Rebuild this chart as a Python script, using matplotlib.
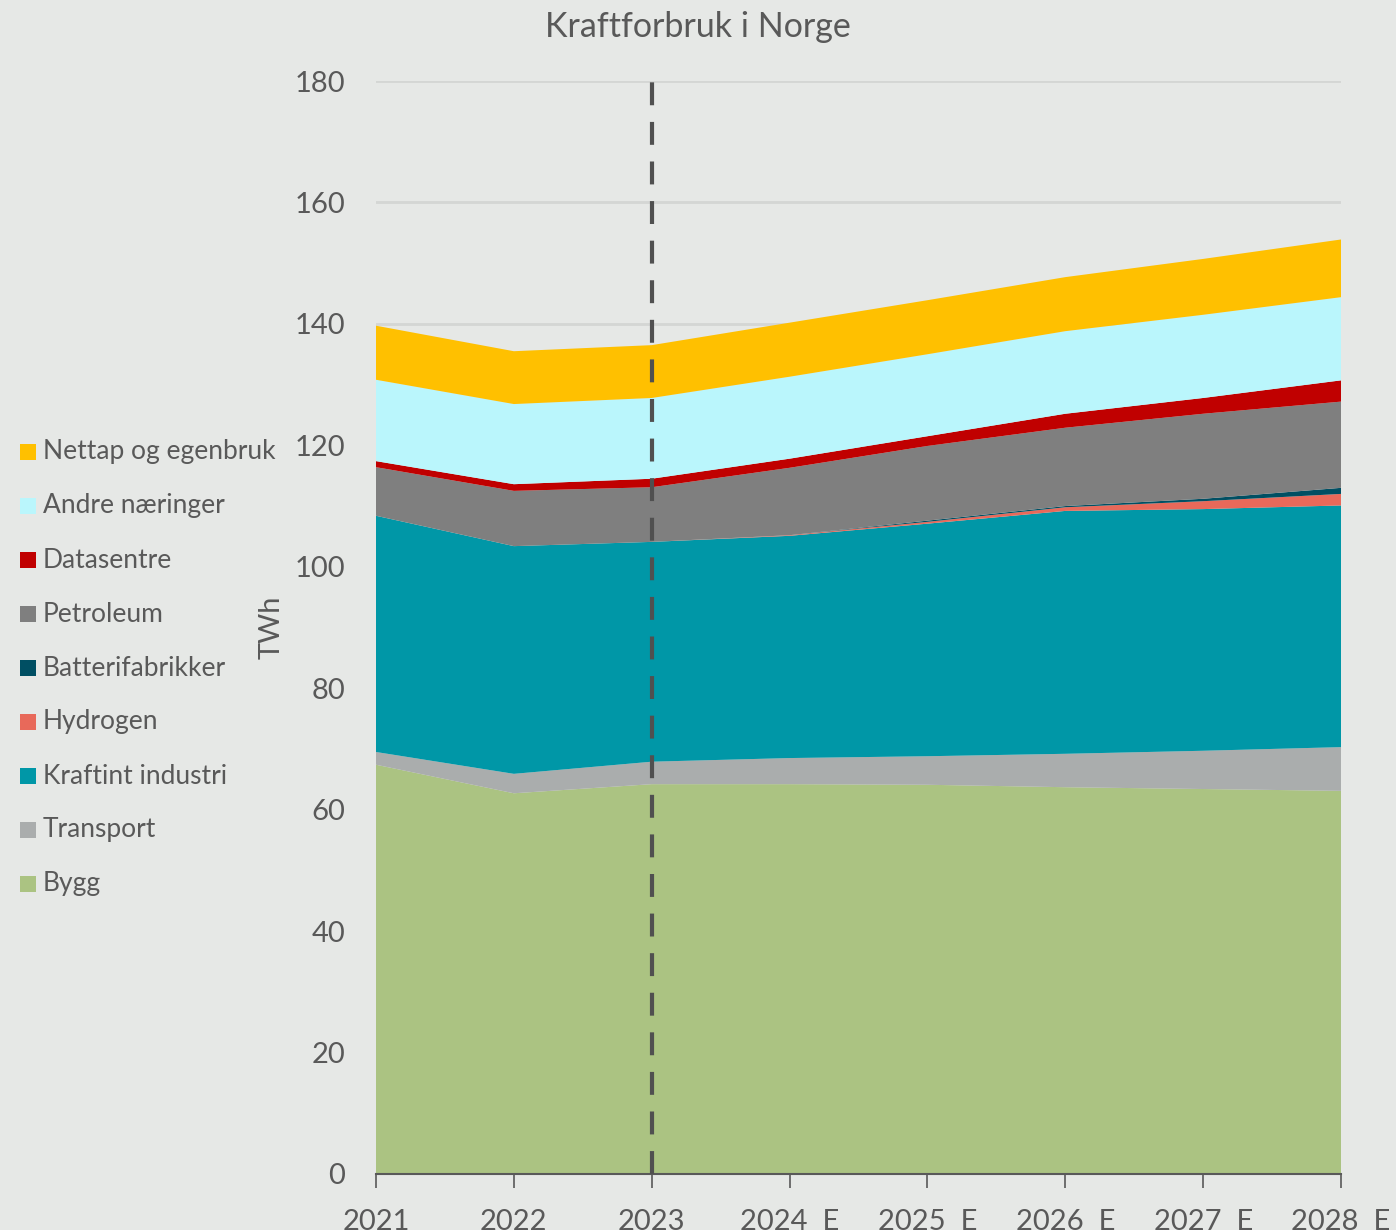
import matplotlib
matplotlib.use("Agg")
import matplotlib.pyplot as plt
from matplotlib.patches import Rectangle

years = [2021, 2022, 2023, 2024, 2025, 2026, 2027, 2028]
year_labels = ["2021", "2022", "2023", "2024  E", "2025  E", "2026  E", "2027  E", "2028  E"]

bygg = [67.4, 62.7, 64.2, 64.2, 64.1, 63.7, 63.4, 63.1]
transport = [2.1, 3.2, 3.7, 4.3, 4.7, 5.5, 6.3, 7.2]
kraftint = [38.9, 37.5, 36.2, 36.6, 38.3, 40.0, 39.8, 39.8]
hydrogen = [0.0, 0.0, 0.0, 0.1, 0.3, 0.6, 1.3, 1.9]
batteri = [0.0, 0.0, 0.0, 0.0, 0.2, 0.2, 0.4, 1.0]
petroleum = [8.0, 9.1, 9.0, 11.1, 12.3, 12.9, 14.0, 14.2]
datasentre = [1.0, 1.1, 1.4, 1.5, 1.6, 2.3, 2.6, 3.5]
andre = [13.4, 13.2, 13.3, 13.5, 13.5, 13.6, 13.7, 13.7]
nettap = [8.9, 8.7, 8.7, 8.9, 8.9, 8.9, 9.2, 9.5]

series_names = ["Bygg", "Transport", "Kraftint industri", "Hydrogen", "Batterifabrikker",
                "Petroleum", "Datasentre", "Andre næringer", "Nettap og egenbruk"]
series = [bygg, transport, kraftint, hydrogen, batteri, petroleum, datasentre, andre, nettap]
colors = ["#ABC382", "#AAADAD", "#0097A7", "#E8695A", "#004F63",
          "#7F7F7F", "#C00000", "#BAF6FC", "#FFC000"]

bg = "#E6E8E6"
txt = "#595959"
plt.rcParams['font.family'] = ['Lato', 'DejaVu Sans']

fig = plt.figure(figsize=(13.96, 12.30), dpi=100, facecolor=bg)
ax = fig.add_axes([376/1396, 1 - 1174/1230, (1341-376)/1396, (1174-81)/1230])
ax.set_facecolor(bg)

ax.stackplot(years, *series, colors=colors, linewidth=0, zorder=2)

ax.set_xlim(2021, 2028)
ax.set_ylim(0, 180)
ax.set_yticks(range(0, 181, 20))
ax.grid(axis='y', color='#D4D6D4', linewidth=2, zorder=0)
ax.set_axisbelow(True)

ax.set_xticks(years)
ax.set_xticklabels(year_labels)
ax.tick_params(axis='x', length=10, width=1.2, color='#595959', pad=15, labelsize=21, labelcolor=txt)
ax.tick_params(axis='y', length=0, pad=22, labelsize=21, labelcolor=txt)

for s in ['top', 'right', 'left']:
    ax.spines[s].set_visible(False)
ax.spines['bottom'].set_color('#595959')
ax.spines['bottom'].set_linewidth(1.5)
ax.spines['bottom'].set_zorder(5)

ax.axvline(2023, ymin=0, ymax=(1174-76)/(1174-81), color='#505050', linestyle=(0, (5.5, 4)),
           linewidth=3, zorder=6, clip_on=False)

ax.set_ylabel("TWh", fontsize=21, color=txt, labelpad=7)

fig.text(0.5, 1 - 27/1230, "Kraftforbruk i Norge", ha='center', va='center', fontsize=24.5, color=txt)

# legend
rows_y = [452, 506, 560, 614, 668, 722, 776, 830, 884]
for i, (name, col) in enumerate(zip(series_names[::-1], colors[::-1])):
    yc = rows_y[i]
    fig.patches.append(Rectangle((20/1396, 1 - (yc + 8)/1230), 16/1396, 16/1230,
                                 transform=fig.transFigure, facecolor=col, edgecolor='none'))
    fig.text(43/1396, 1 - yc/1230, name, ha='left', va='center', fontsize=19, color=txt)

fig.savefig("out.png", dpi=100, facecolor=bg)
